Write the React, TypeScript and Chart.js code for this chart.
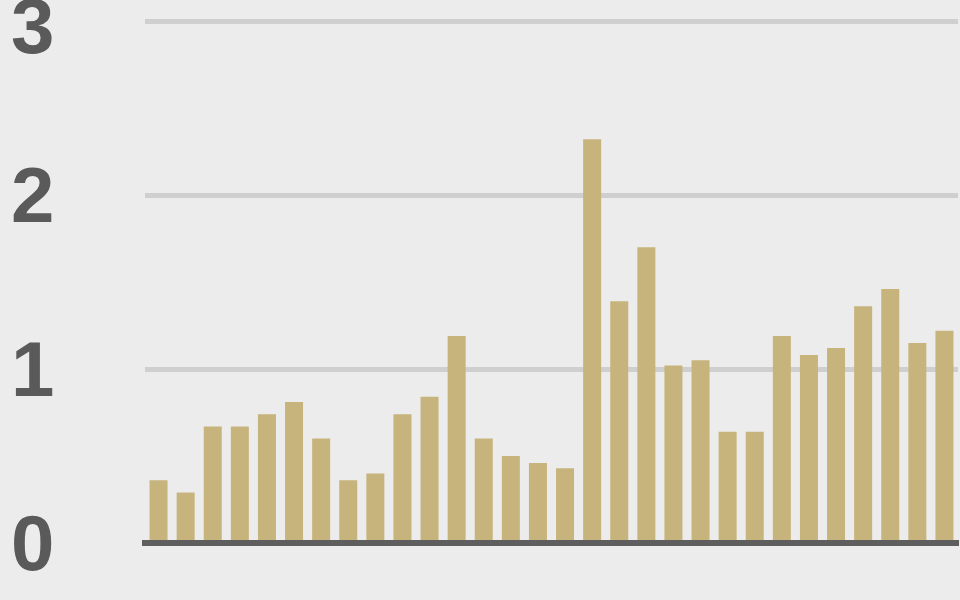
import React, { useEffect, useRef } from "react";
import { Chart, registerables } from "chart.js";

Chart.register(...registerables);

const categories: string[] = [
  "1", "2", "3", "4", "5", "6", "7", "8", "9", "10",
  "11", "12", "13", "14", "15", "16", "17", "18", "19", "20",
  "21", "22", "23", "24", "25", "26", "27", "28", "29", "30",
];

const values: number[] = [
  0.36, 0.29, 0.67, 0.67, 0.74, 0.81, 0.6, 0.36, 0.4, 0.74,
  0.84, 1.19, 0.6, 0.5, 0.46, 0.43, 2.32, 1.39, 1.7, 1.02,
  1.05, 0.64, 0.64, 1.19, 1.08, 1.12, 1.36, 1.46, 1.15, 1.22,
];

const yTickValues: number[] = [0, 1, 2, 3];

const BG = "#ececec";
const BAR = "#c7b47c";
const GRID = "#cfcfcf";
const BASE = "#5e5e5e";
const LABEL = "#5a5a5a";

const yLabelPlugin = {
  id: "yLabels",
  afterDraw(chart: any) {
    const scale = chart.scales.y;
    const ctx = chart.ctx;
    ctx.save();
    ctx.font = "bold 78px 'Liberation Sans', Arial, sans-serif";
    ctx.fillStyle = LABEL;
    ctx.textAlign = "left";
    ctx.textBaseline = "middle";
    scale.ticks.forEach((t: any) => {
      const y = Math.max(scale.getPixelForValue(t.value), 26) + 5;
      ctx.fillText(String(t.value), 11, y);
    });
    ctx.restore();
  },
};

const bgPlugin = {
  id: "bg",
  beforeDraw(chart: any) {
    const ctx = chart.ctx;
    ctx.save();
    ctx.fillStyle = BG;
    ctx.fillRect(0, 0, chart.width, chart.height);
    ctx.restore();
  },
};

export default function App() {
  const ref = useRef<HTMLCanvasElement | null>(null);

  useEffect(() => {
    document.body.style.margin = "0";
    document.body.style.background = BG;
    if (!ref.current) return;
    const chart = new Chart(ref.current, {
      type: "bar",
      data: {
        labels: categories,
        datasets: [
          {
            data: values,
            backgroundColor: BAR,
            borderWidth: 0,
            barPercentage: 0.665,
            categoryPercentage: 1,
          },
        ],
      },
      options: {
        responsive: false,
        animation: false,
        devicePixelRatio: 1,
        layout: { padding: { left: 0, right: 2, top: 21, bottom: 57 } },
        plugins: {
          legend: { display: false },
          tooltip: { enabled: false },
        },
        scales: {
          x: {
            grid: { display: false, drawTicks: false },
            ticks: { display: false },
            border: { display: true, color: BASE, width: 6, z: 1 },
            afterFit: (scale: any) => {
              scale.height = 0;
              scale.paddingLeft = 0;
              scale.paddingRight = 0;
            },
          },
          y: {
            min: 0,
            max: 3,
            afterBuildTicks: (scale: any) => {
              scale.ticks = yTickValues.map((v) => ({ value: v }));
            },
            afterFit: (scale: any) => {
              scale.width = 145;
              scale.paddingTop = 0;
              scale.paddingBottom = 0;
            },
            ticks: { display: false },
            grid: {
              drawTicks: false,
              color: (c: any) => (c.tick && c.tick.value === 0 ? BASE : GRID),
              lineWidth: (c: any) => (c.tick && c.tick.value === 0 ? 6 : 5),
            },
            border: { display: false },
          },
        },
      },
      plugins: [bgPlugin, yLabelPlugin],
    });
    return () => chart.destroy();
  }, []);

  return (
    <div style={{ width: 960, height: 600, background: BG }}>
      <canvas ref={ref} width={960} height={600} />
    </div>
  );
}
